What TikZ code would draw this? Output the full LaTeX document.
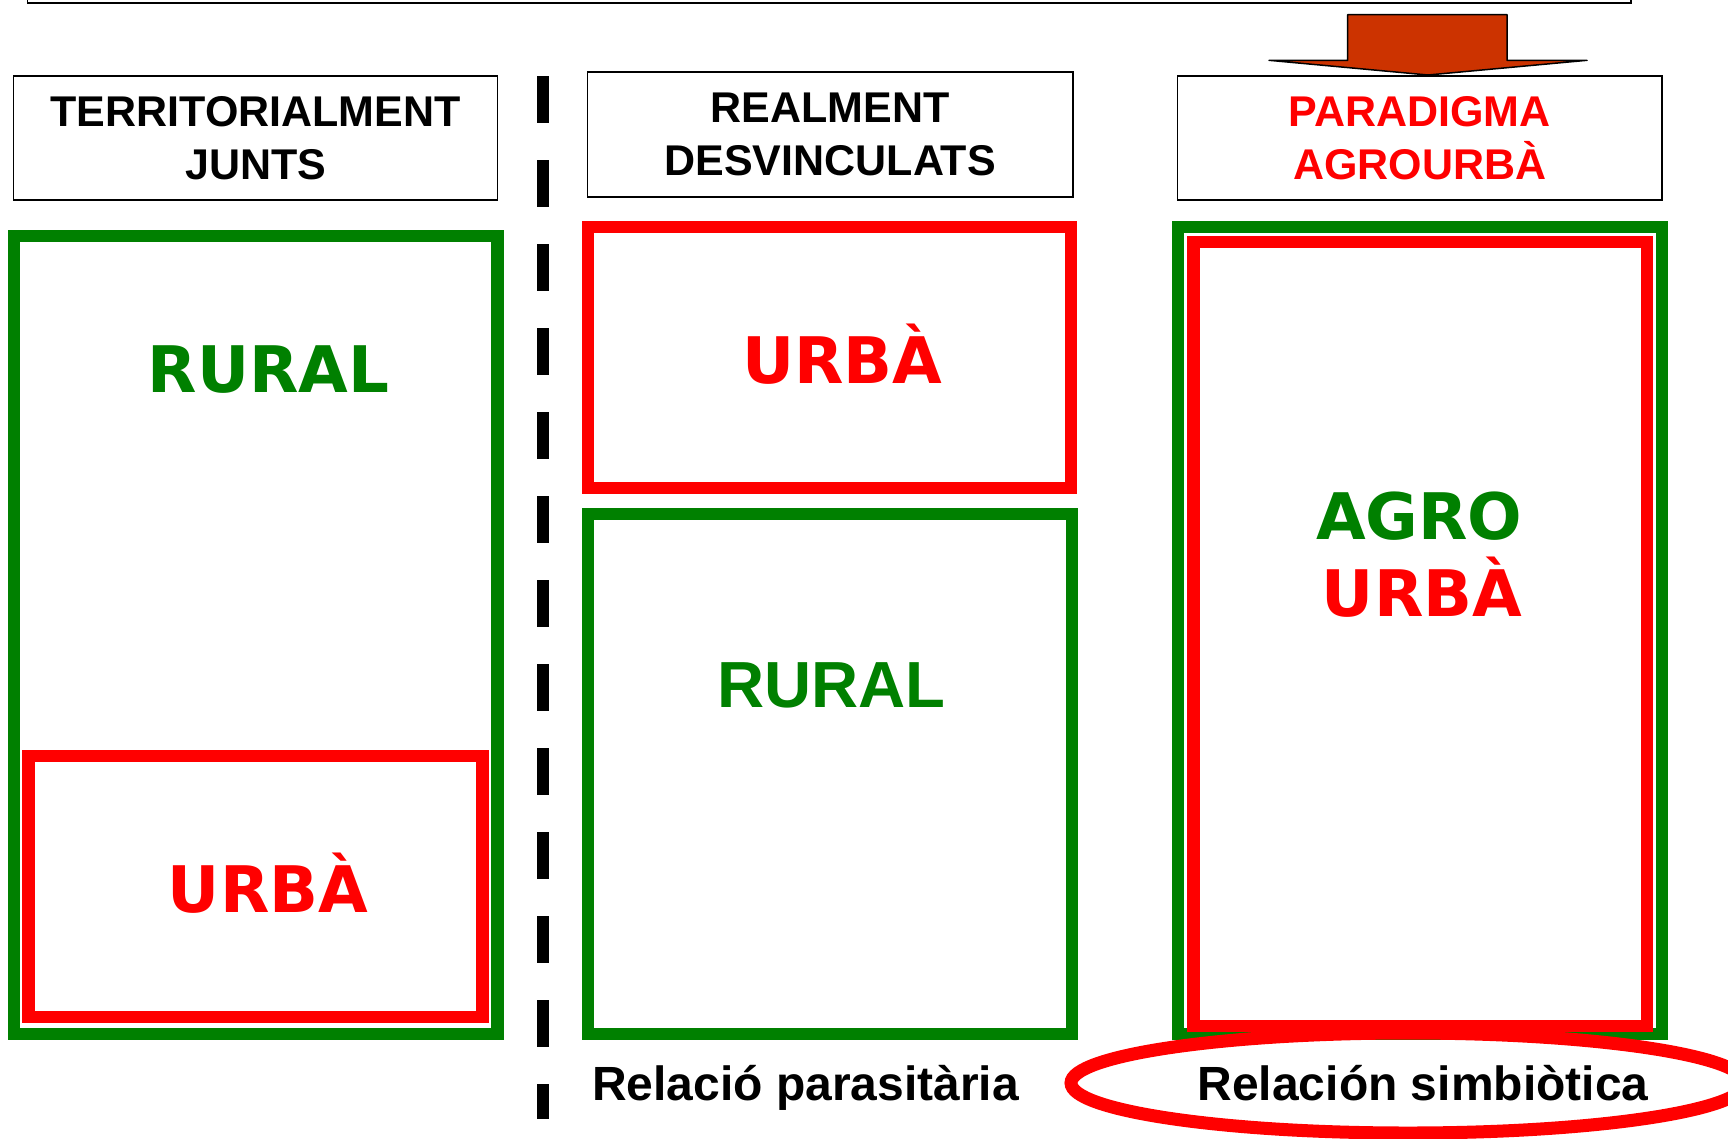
\documentclass[tikz,border=0pt]{standalone}
\usepackage{fontspec}
\setmainfont{Liberation Sans}
\newfontfamily\dvsans{DejaVu Sans}
\definecolor{agreen}{RGB}{0,128,0}
\definecolor{ared}{RGB}{255,0,0}
\definecolor{arrowc}{RGB}{204,51,0}
\begin{document}
\begin{tikzpicture}[x=1pt,y=-1pt,
  hdr/.style={draw=black, line width=1.6pt, fill=white, inner sep=0pt, align=center,
    font=\fontsize{43}{52.5}\selectfont\bfseries},
  gbox/.style={draw=agreen, line width=12.4pt, inner sep=0pt},
  rbox/.style={draw=ared, line width=12.4pt, inner sep=0pt},
  biglbl/.style={anchor=base, inner sep=0pt, font=\dvsans\fontsize{64.2}{78}\selectfont\bfseries},
  bigarial/.style={anchor=base, inner sep=0pt, font=\fontsize{65.2}{78}\selectfont\bfseries},
  botlbl/.style={anchor=base, inner sep=0pt, font=\fontsize{48}{58}\selectfont\bfseries},
  divider/.style={line width=12pt, dash pattern=on 47pt off 37pt},
  bigarrow/.style={draw=black, fill=arrowc, line width=1.5pt, line join=round}
]
\useasboundingbox (0,0) rectangle (1728,1138);
\fill[white] (0,0) rectangle (1728,1138);

% top frame (cut off)
\draw[line width=1.6pt] (27.6,-40) rectangle (1631,2.7);

% headers
\node[hdr, minimum width=484pt, minimum height=124pt] (h1) at (255.6,138) {TERRITORIALMENT\\JUNTS};
\node[hdr, minimum width=485.7pt, minimum height=125pt] (h2) at (830.2,134.2) {REALMENT\\DESVINCULATS};
\node[hdr, minimum width=484.4pt, minimum height=124pt, text=ared] (h3) at (1419.8,138) {PARADIGMA\\AGROURBÀ};

% block arrow
\coordinate (a1) at (1347.7,14.7);
\coordinate (a2) at (1507,14.7);
\coordinate (a3) at (1507,60.3);
\coordinate (a4) at (1587,60.3);
\coordinate (a5) at (1428,75);
\coordinate (a6) at (1269,60.3);
\coordinate (a7) at (1347.7,60.3);
\draw[bigarrow] (a1) -- (a2) -- (a3) -- (a4) -- (a5) -- (a6) -- (a7) -- cycle;

% divider
\coordinate (d1) at (543,76);
\coordinate (d2) at (543,1119);
\draw[divider] (d1) -- (d2);

% left column
\node[gbox, minimum width=483.8pt, minimum height=797.8pt] (g1) at (255.6,635.1) {};
\node[rbox, minimum width=454.2pt, minimum height=261pt] (r1) at (255.4,886.5) {};
\node[biglbl, text=agreen] (rural1) at (268.5,392.7) {RURAL};
\node[biglbl, text=ared] (urba1) at (268,912.7) {URBÀ};

% middle column
\node[rbox, minimum width=483pt, minimum height=261.3pt] (r2) at (829.5,357.35) {};
\node[gbox, minimum width=484pt, minimum height=520pt] (g2) at (830,774) {};
\node[biglbl, text=ared] (urba2) at (842.5,383.3) {URBÀ};
\node[bigarial, text=agreen] (rural2) at (831.7,707.3) {RURAL};

% right column
\node[gbox, minimum width=484pt, minimum height=807.3pt] (g3) at (1420,630.35) {};
\node[rbox, minimum width=453.7pt, minimum height=784.3pt] (r3) at (1420.15,633.85) {};
\node[biglbl, text=agreen] (agro) at (1419.3,539.3) {AGRO};
\node[biglbl, text=ared] (urba3) at (1422,616.7) {URBÀ};

% bottom labels
\draw[draw=ared, line width=13pt] (1408,1083) ellipse [x radius=337, y radius=50];
\node[botlbl] (par) at (805.6,1100) {Relació parasitària};
\node[botlbl] (sim) at (1423,1100) {Relación simbiòtica};
\end{tikzpicture}
\end{document}
